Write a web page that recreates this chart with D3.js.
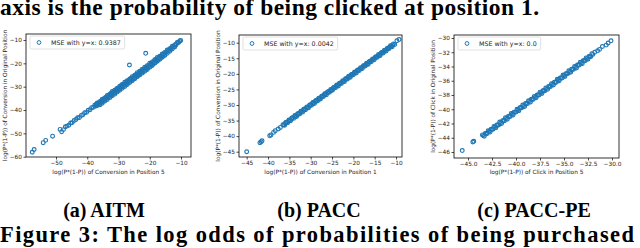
<!DOCTYPE html>
<html>
<head>
<meta charset="utf-8">
<script src="https://cdn.jsdelivr.net/npm/d3@7"></script>
<style>
body { margin: 0; background: #fff; }
svg text { font-family: "DejaVu Sans", sans-serif; fill: #222; }
svg text.cap { font-family: "Liberation Serif", serif; font-weight: bold; fill: #000; }
</style>
</head>
<body>
<svg id="fig" width="640" height="248"></svg>
<script>
'use strict';

// points, [x, y]
var aitmPoints = [
    [-57.6,-58.1],[-57.0,-56.9],[-54.1,-54.0],[-53.3,-53.0],[-51.1,-51.2],[-48.7,-48.3],[-48.2,-49.3],
    [-47.6,-48.4],[-47.0,-47.2],[-46.5,-46.9],[-45.9,-46.5],[-45.3,-45.6],[-44.8,-45.4],[-44.2,-44.5],
    [-43.6,-44.1],[-43.1,-43.3],[-42.5,-43.2],[-41.9,-42.3],[-41.4,-42.0],[-40.8,-41.2],[-40.2,-41.0],
    [-39.7,-40.1],[-39.1,-39.9],[-38.6,-39.0],[-38.0,-38.8],
    [-37.6,-37.9],[-36.8,-37.0],[-36.0,-36.4],[-35.2,-35.4],[-34.4,-34.8],[-33.6,-33.8],[-32.8,-33.2],
    [-32.0,-32.1],[-31.2,-31.5],[-30.4,-30.7],[-29.6,-29.8],[-28.8,-29.1],[-28.0,-28.1],[-27.2,-27.5],
    [-26.4,-26.7],[-25.6,-25.7],[-24.8,-25.1],[-24.0,-24.0],[-23.2,-23.4],[-22.4,-22.5],[-21.6,-21.7],
    [-20.8,-21.0],[-20.0,-20.0],[-19.2,-19.4],[-18.4,-18.5],[-17.6,-17.5],[-16.8,-16.9],[-16.0,-16.0],
    [-15.2,-15.3],[-14.4,-14.3],[-13.6,-13.7],[-12.8,-12.7],[-12.0,-12.1],[-11.2,-11.1],[-10.4,-10.4],
    [-37.2,-38.3],[-36.4,-37.4],[-35.6,-36.7],[-34.8,-35.8],[-34.0,-35.0],[-33.2,-34.2],[-32.4,-33.5],
    [-31.6,-32.6],[-30.8,-31.8],[-30.0,-31.1],[-29.2,-30.2],[-28.4,-29.4],[-27.6,-28.7],[-26.8,-27.8],
    [-26.0,-27.0],[-25.2,-26.2],[-24.4,-25.4],[-23.6,-24.6],[-22.8,-23.8],[-22.0,-23.0],[-21.2,-22.1],
    [-20.4,-21.3],[-19.6,-20.5],[-18.8,-19.7],[-18.0,-18.8],[-17.2,-18.0],[-16.4,-17.1],[-15.6,-16.2],
    [-14.8,-15.4],[-14.0,-14.6],[-13.2,-13.7],[-12.4,-12.9],[-11.6,-12.0],[-10.8,-11.1],[-10.1,-10.2],
    [-36.0,-37.8],[-35.2,-37.1],[-34.4,-36.2],[-33.6,-35.5],[-32.8,-34.7],[-32.0,-33.9],[-31.2,-33.2],
    [-30.4,-32.3],[-29.6,-31.5],[-28.8,-30.7],[-28.0,-29.9],[-27.2,-29.1],[-26.4,-28.2],[-25.6,-27.5],
    [-24.8,-26.6],[-24.0,-25.8],[-23.2,-25.0],[-22.4,-24.2],[-21.6,-23.4],[-20.8,-22.6],[-20.0,-21.7],
    [-19.2,-20.9],[-18.4,-20.0],[-17.6,-19.1],[-16.8,-18.3],[-16.0,-17.4],[-15.2,-16.5],
    [-26.5,-20.7],[-21.3,-15.7]
];
var aitmFill = [
    [-37.2,-37.6],[-36.4,-37.0],[-35.6,-36.1],[-34.8,-35.4],[-34.0,-34.5],[-33.2,-33.8],[-32.4,-32.8],
    [-31.6,-32.2],[-30.8,-31.3],[-30.0,-30.6],[-29.2,-29.6],[-28.4,-29.0],[-27.6,-28.0],[-26.8,-27.4],
    [-26.0,-26.5],[-25.2,-25.7],[-24.4,-24.9],[-23.6,-24.1],[-22.8,-23.3],[-22.0,-22.5],[-21.2,-21.7],
    [-20.4,-20.9],[-19.6,-20.1],[-18.8,-19.3],[-18.0,-18.5],[-17.2,-17.7],[-16.4,-16.9],[-15.6,-16.0],
    [-14.8,-15.3],[-14.0,-14.4],[-13.2,-13.6],[-12.4,-12.8],[-11.6,-11.9],[-10.8,-11.0],
    [-36.8,-38.1],[-36.0,-37.5],[-35.2,-36.6],[-34.4,-35.8],[-33.6,-35.0],[-32.8,-34.2],[-32.0,-33.5],
    [-31.2,-32.6],[-30.4,-31.8],[-29.6,-31.0],[-28.8,-30.2],[-28.0,-29.4],[-27.2,-28.6],[-26.4,-27.8],
    [-25.6,-27.0],[-24.8,-26.2],[-24.0,-25.4],[-23.2,-24.6],[-22.4,-23.8],[-21.6,-23.0],[-20.8,-22.2],
    [-20.0,-21.4],[-19.2,-20.6],[-18.4,-19.8],[-17.6,-19.0],[-16.8,-18.1],[-16.0,-17.3],[-15.2,-16.5],
    [-14.4,-15.7],[-13.6,-14.8],[-12.8,-13.9],[-12.0,-13.0]
];

var paccPoints = [
    [-45.0,-45.0],[-41.9,-42.1],[-41.6,-41.8],[-41.4,-41.5],[-39.6,-39.9],[-39.3,-39.6],[-38.7,-38.8],
    [-38.3,-38.3],[-37.6,-37.7],[-37.1,-37.2],
    [-36.5,-36.3],[-35.8,-35.6],[-35.1,-34.8],[-34.4,-34.2],[-33.7,-33.4],[-33.0,-32.8],[-32.3,-32.0],
    [-31.6,-31.4],[-30.9,-30.6],[-30.2,-30.0],[-29.5,-29.2],[-28.8,-28.6],[-28.1,-27.8],[-27.4,-27.2],
    [-26.7,-26.4],[-26.0,-25.8],[-25.3,-25.0],[-24.6,-24.4],[-23.9,-23.6],[-23.2,-23.0],[-22.5,-22.2],
    [-21.8,-21.6],[-21.1,-20.8],[-20.4,-20.2],[-19.7,-19.4],[-19.0,-18.8],[-18.3,-18.0],[-17.6,-17.4],
    [-16.9,-16.6],[-16.2,-16.0],[-15.5,-15.2],[-14.8,-14.6],[-14.1,-13.8],[-13.4,-13.2],[-12.7,-12.4],
    [-12.0,-11.8],[-11.3,-11.0],[-10.6,-10.4],
    [-36.1,-36.5],[-35.4,-35.7],[-34.7,-35.1],[-34.0,-34.3],[-33.3,-33.7],[-32.6,-32.9],[-31.9,-32.3],
    [-31.2,-31.5],[-30.5,-30.9],[-29.8,-30.1],[-29.1,-29.5],[-28.4,-28.7],[-27.7,-28.1],[-27.0,-27.3],
    [-26.3,-26.7],[-25.6,-25.9],[-24.9,-25.3],[-24.2,-24.5],[-23.5,-23.9],[-22.8,-23.1],[-22.1,-22.5],
    [-21.4,-21.7],[-20.7,-21.1],[-20.0,-20.3],[-19.3,-19.7],[-18.6,-18.9],[-17.9,-18.3],[-17.2,-17.5],
    [-16.5,-16.9],[-15.8,-16.1],[-15.1,-15.5],[-14.4,-14.7],[-13.7,-14.1],[-13.0,-13.3],[-12.3,-12.7],
    [-11.6,-11.9],[-10.9,-11.3],[-10.3,-10.6],
    [-9.8,-9.4],[-9.3,-9.0]
];
var paccFill = [
    [-36.3,-36.4],[-35.6,-35.5],[-34.9,-34.9],[-34.2,-34.1],[-33.5,-33.6],[-32.8,-32.7],[-32.1,-32.1],
    [-31.4,-31.3],[-30.7,-30.8],[-30.0,-29.9],[-29.3,-29.3],[-28.6,-28.5],[-27.9,-28.0],[-27.2,-27.1],
    [-26.5,-26.5],[-25.8,-25.7],[-25.1,-25.2],[-24.4,-24.3],[-23.7,-23.7],[-23.0,-22.9],[-22.3,-22.4],
    [-21.6,-21.5],[-20.9,-20.9],[-20.2,-20.1],[-19.5,-19.6],[-18.8,-18.7],[-18.1,-18.1],[-17.4,-17.3],
    [-16.7,-16.8],[-16.0,-15.9],[-15.3,-15.3],[-14.6,-14.5],[-13.9,-14.0],[-13.2,-13.1],[-12.5,-12.5],
    [-11.8,-11.7],[-11.1,-11.1],
    [-35.9,-35.8],[-35.2,-35.2],[-34.5,-34.4],[-33.8,-33.8],[-33.1,-33.0],[-32.4,-32.4],[-31.7,-31.6],
    [-31.0,-31.0],[-30.3,-30.2],[-29.6,-29.6],[-28.9,-28.8],[-28.2,-28.2],[-27.5,-27.4],[-26.8,-26.8],
    [-26.1,-26.0],[-25.4,-25.4],[-24.7,-24.6],[-24.0,-24.0],[-23.3,-23.2],[-22.6,-22.6],[-21.9,-21.8],
    [-21.2,-21.2],[-20.5,-20.4],[-19.8,-19.8],[-19.1,-19.0],[-18.4,-18.4],[-17.7,-17.6],[-17.0,-17.0],
    [-16.3,-16.2],[-15.6,-15.6],[-14.9,-14.8],[-14.2,-14.2],[-13.5,-13.4],[-12.8,-12.8],[-12.1,-12.0],
    [-11.4,-11.4],[-10.8,-10.7]
];

var paccPePoints = [
    [-45.6,-45.8],[-44.5,-44.6],[-44.4,-44.5],
    [-43.5,-43.6],[-43.2,-43.4],[-42.9,-43.0],[-42.6,-42.8],[-42.3,-42.4],[-42.0,-42.2],[-41.7,-41.8],
    [-41.4,-41.6],[-41.1,-41.2],[-40.8,-41.0],[-40.5,-40.6],[-40.2,-40.4],[-39.9,-40.0],[-39.6,-39.8],
    [-39.3,-39.4],[-39.0,-39.2],[-38.7,-38.8],[-38.4,-38.6],[-38.1,-38.2],[-37.8,-38.0],[-37.5,-37.6],
    [-37.2,-37.4],[-36.9,-37.0],[-36.6,-36.8],[-36.3,-36.4],[-36.0,-36.2],[-35.7,-35.8],[-35.4,-35.6],
    [-35.1,-35.2],[-34.8,-35.0],[-34.5,-34.6],[-34.2,-34.4],[-33.9,-34.0],[-33.6,-33.8],[-33.3,-33.4],
    [-33.0,-33.2],[-32.7,-32.8],[-32.4,-32.6],[-32.1,-32.2],[-31.8,-32.0],
    [-43.3,-43.8],[-43.0,-43.4],[-42.7,-43.2],[-42.4,-42.8],[-42.1,-42.6],[-41.8,-42.2],[-41.5,-42.0],
    [-41.2,-41.6],[-40.9,-41.4],[-40.6,-41.0],[-40.3,-40.8],[-40.0,-40.4],[-39.7,-40.2],[-39.4,-39.8],
    [-39.1,-39.6],[-38.8,-39.2],[-38.5,-39.0],[-38.2,-38.6],[-37.9,-38.4],[-37.6,-38.0],[-37.3,-37.8],
    [-37.0,-37.4],[-36.7,-37.2],[-36.4,-36.8],[-36.1,-36.6],[-35.8,-36.2],[-35.5,-36.0],[-35.2,-35.6],
    [-34.9,-35.4],[-34.6,-35.0],[-34.3,-34.8],[-34.0,-34.4],[-33.7,-34.2],[-33.4,-33.8],[-33.1,-33.6],
    [-32.8,-33.2],[-32.5,-33.0],[-32.2,-32.6],
    [-31.5,-31.8],[-31.3,-31.6],[-31.0,-31.2],[-30.6,-31.0],[-30.4,-30.7],[-30.1,-30.4]
];
var paccPeFill = [
    [-43.4,-43.7],[-43.1,-43.4],[-42.8,-43.1],[-42.5,-42.8],[-42.2,-42.5],[-41.9,-42.2],[-41.6,-41.9],
    [-41.3,-41.6],[-41.0,-41.3],[-40.7,-41.0],[-40.4,-40.7],[-40.1,-40.4],[-39.8,-40.1],[-39.5,-39.8],
    [-39.2,-39.5],[-38.9,-39.2],[-38.6,-38.9],[-38.3,-38.6],[-38.0,-38.3],[-37.7,-38.0],[-37.4,-37.7],
    [-37.1,-37.4],[-36.8,-37.1],[-36.5,-36.8],[-36.2,-36.5],[-35.9,-36.2],[-35.6,-35.9],[-35.3,-35.6],
    [-35.0,-35.3],[-34.7,-35.0],[-34.4,-34.7],[-34.1,-34.4],[-33.8,-34.1],[-33.5,-33.8],[-33.2,-33.5],
    [-32.9,-33.2],[-32.6,-32.9],[-32.3,-32.6],[-32.0,-32.3]
];

var aitmXTicks = [-50, -40, -30, -20, -10],
    aitmYTicks = [-60, -50, -40, -30, -20, -10],
    paccXTicks = [-45, -40, -35, -30, -25, -20, -15, -10],
    paccYTicks = [-45, -40, -35, -30, -25, -20, -15, -10],
    paccPeXTicks = [-45, -42.5, -40, -37.5, -35, -32.5, -30],
    paccPeYTicks = [-46, -44, -42, -40, -38, -36, -34, -32, -30];

var panelCaptions = ['(a) AITM', '(b) PACC', '(c) PACC-PE'];
var mseLabels = ['MSE with y=x: 0.9387', 'MSE with y=x: 0.0042', 'MSE with y=x: 0.0'];
var xLabels = ['log(P*(1-P)) of Conversion in Position 5',
               'log(P*(1-P)) of Conversion in Position 1',
               'log(P*(1-P)) of Click in Position 5'];
var yLabels = ['log(P*(1-P)) of Conversion in Original Position',
               'log(P*(1-P)) of Conversion in Original Position',
               'log(P*(1-P)) of Click in Original Position'];

var blue = '#1f77b4';

var panels = [
    { pts: aitmPoints.concat(aitmFill), xt: aitmXTicks, yt: aitmYTicks, xf: d3.format('d'),
      box: [26, 34, 191, 157], xd: [-59.6, -6.8], yd: [-60.13, -7.43], capX: 104 },
    { pts: paccPoints.concat(paccFill), xt: paccXTicks, yt: paccYTicks, xf: d3.format('d'),
      box: [239, 35, 402, 157], xd: [-46.8, -8.6], yd: [-46.7, -7.53], capX: 319 },
    { pts: paccPePoints.concat(paccPeFill), xt: paccPeXTicks, yt: paccPeYTicks, xf: d3.format('.1f'),
      box: [454, 35, 619, 158], xd: [-46.46, -29.27], yd: [-46.84, -29.58], capX: 534 }
];

var svg = d3.select('#fig');
svg.append('rect').attr('width', 640).attr('height', 248).attr('fill', '#fff');

function drawPanel(p, i) {
    var b = p.box;
    var x = d3.scaleLinear().domain(p.xd).range([b[0], b[2]]),
        y = d3.scaleLinear().domain(p.yd).range([b[3], b[1]]);
    var g = svg.append('g');

    g.append('g').attr('class', 'pts').selectAll('circle')
        .data(p.pts).enter().append('circle')
        .attr('cx', function (d) { return x(d[0]); })
        .attr('cy', function (d) { return y(d[1]); })
        .attr('r', 1.9)
        .attr('fill', 'none')
        .attr('stroke', blue)
        .attr('stroke-width', 1.15);

    var xa = g.append('g').attr('transform', 'translate(0,' + b[3] + ')')
        .call(d3.axisBottom(x).tickValues(p.xt).tickFormat(p.xf).tickSize(2.5).tickPadding(1.5));
    var ya = g.append('g').attr('transform', 'translate(' + b[0] + ',0)')
        .call(d3.axisLeft(y).tickValues(p.yt).tickFormat(d3.format('d')).tickSize(2.5).tickPadding(1.5));
    [xa, ya].forEach(function (a) {
        a.select('.domain').remove();
        a.selectAll('line').attr('stroke', '#000').attr('stroke-width', 0.7);
        a.selectAll('text').attr('font-size', 5.8).attr('font-family', '"DejaVu Sans", sans-serif').attr('fill', '#222');
    });

    g.append('rect').attr('x', b[0]).attr('y', b[1])
        .attr('width', b[2] - b[0]).attr('height', b[3] - b[1])
        .attr('fill', 'none').attr('stroke', '#000').attr('stroke-width', 0.8);

    // legend
    var lg = g.append('g').attr('transform', 'translate(' + (b[0] + 4) + ',' + (b[1] + 2) + ')');
    var lbox = lg.append('rect').attr('height', 13).attr('rx', 1.5)
        .attr('fill', '#fff').attr('fill-opacity', 0.8).attr('stroke', '#ccc').attr('stroke-width', 0.6);
    lg.append('circle').attr('cx', 9).attr('cy', 6.5).attr('r', 1.9)
        .attr('fill', 'none').attr('stroke', blue).attr('stroke-width', 1);
    var lt = lg.append('text').attr('x', 21).attr('y', 8.7).attr('font-size', 6.3).text(mseLabels[i]);
    lbox.attr('width', lt.node().getComputedTextLength() + 25);

    g.append('text').attr('x', (b[0] + b[2]) / 2).attr('y', 173.5)
        .attr('text-anchor', 'middle').attr('font-size', 5.8).text(xLabels[i]);
    g.append('text').attr('transform', 'translate(' + (b[0] - 21) + ',' + ((b[1] + b[3]) / 2) + ') rotate(-90)')
        .attr('text-anchor', 'middle').attr('dy', '0.35em').attr('font-size', 5.8).text(yLabels[i]);

    svg.append('text').attr('class', 'cap').attr('x', p.capX).attr('y', 217)
        .attr('text-anchor', 'middle').attr('font-size', 20).text(panelCaptions[i]);
}

panels.forEach(drawPanel);

// caption lines above and below
svg.append('text').attr('class', 'cap').attr('x', 0).attr('y', 14.5)
    .attr('font-size', 23.5).attr('textLength', 539).attr('lengthAdjust', 'spacing')
    .text('axis is the probability of being clicked at position 1.');
svg.append('text').attr('class', 'cap').attr('x', 0).attr('y', 242)
    .attr('font-size', 22.5).attr('textLength', 634).attr('lengthAdjust', 'spacing')
    .text('Figure 3: The log odds of probabilities of being purchased');
</script>
</body>
</html>
